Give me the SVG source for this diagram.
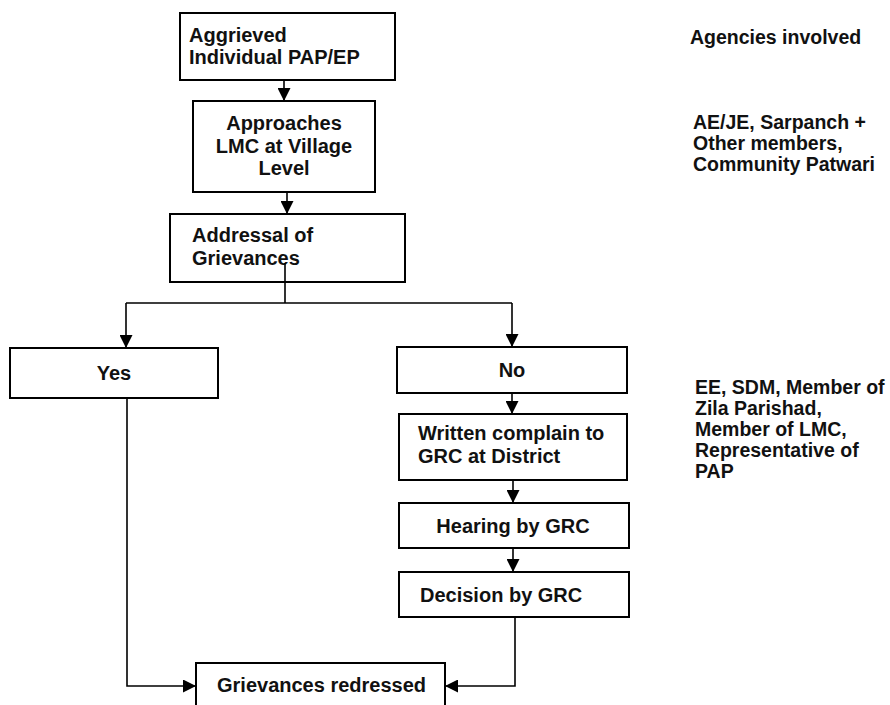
<svg xmlns="http://www.w3.org/2000/svg" width="890" height="705" viewBox="0 0 890 705">
<style>
.box{fill:#fff;stroke:#000;stroke-width:2}
.t{font-family:"Liberation Sans",Arial,sans-serif;font-weight:bold;font-size:20px;fill:#111}
.r{font-size:19.5px}
.c{text-anchor:middle}
.ln{fill:none;stroke:#000;stroke-width:1.6}
</style>
<defs>
<marker id="ah" viewBox="0 0 10 10" refX="10" refY="5" markerWidth="13" markerHeight="13" markerUnits="userSpaceOnUse" orient="auto">
<path d="M0,0 L10,5 L0,10 z" fill="#000"/>
</marker>
</defs>
<rect width="890" height="705" fill="#fff"/>
<g id="n1"><rect class="box" x="180" y="13" width="215" height="67"/>
<text class="t" x="189" y="42">Aggrieved</text><text class="t" x="189" y="64">Individual PAP/EP</text></g>
<g id="n2"><rect class="box" x="193" y="101" width="182" height="91"/>
<text class="t c" x="284" y="130">Approaches</text><text class="t c" x="284" y="153">LMC at Village</text><text class="t c" x="284" y="175">Level</text></g>
<g id="n3"><rect class="box" x="170" y="214" width="235" height="68"/>
<text class="t" x="192" y="242">Addressal of</text><text class="t" x="192" y="265">Grievances</text></g>
<g id="n4"><rect class="box" x="10" y="348" width="208" height="50"/>
<text class="t c" x="114" y="380">Yes</text></g>
<g id="n5"><rect class="box" x="397" y="347" width="230" height="46"/>
<text class="t c" x="512" y="377">No</text></g>
<g id="n6"><rect class="box" x="399" y="414" width="228" height="66"/>
<text class="t" x="418" y="440">Written complain to</text><text class="t" x="418" y="463">GRC at District</text></g>
<g id="n7"><rect class="box" x="399" y="503" width="230" height="45"/>
<text class="t c" x="513" y="533">Hearing by GRC</text></g>
<g id="n8"><rect class="box" x="399" y="572" width="230" height="45"/>
<text class="t" x="420" y="602">Decision by GRC</text></g>
<g id="n9"><rect class="box" x="196" y="663" width="249" height="60"/>
<text class="t" x="217" y="692">Grievances redressed</text></g>
<g id="agencies">
<text class="t r" x="690" y="44">Agencies involved</text>
<text class="t r" x="693" y="129">AE/JE, Sarpanch +</text>
<text class="t r" x="693" y="150">Other members,</text>
<text class="t r" x="693" y="171">Community Patwari</text>
<text class="t r" x="695" y="394">EE, SDM, Member of</text>
<text class="t r" x="695" y="415">Zila Parishad,</text>
<text class="t r" x="695" y="436">Member of LMC,</text>
<text class="t r" x="695" y="457">Representative of</text>
<text class="t r" x="695" y="478">PAP</text>
</g>
<g id="connectors">
<path class="ln" d="M284,80 V101" marker-end="url(#ah)"/>
<path class="ln" d="M287,192 V214" marker-end="url(#ah)"/>
<path class="ln" d="M285,263 V303 M126,303 H512"/>
<path class="ln" d="M126,303 V348" marker-end="url(#ah)"/>
<path class="ln" d="M512,303 V347" marker-end="url(#ah)"/>
<path class="ln" d="M512,393 V414" marker-end="url(#ah)"/>
<path class="ln" d="M513,480 V503" marker-end="url(#ah)"/>
<path class="ln" d="M513,548 V572" marker-end="url(#ah)"/>
<path class="ln" d="M515,617 V686 H445" marker-end="url(#ah)"/>
<path class="ln" d="M127,398 V686 H196" marker-end="url(#ah)"/>
</g>
</svg>
